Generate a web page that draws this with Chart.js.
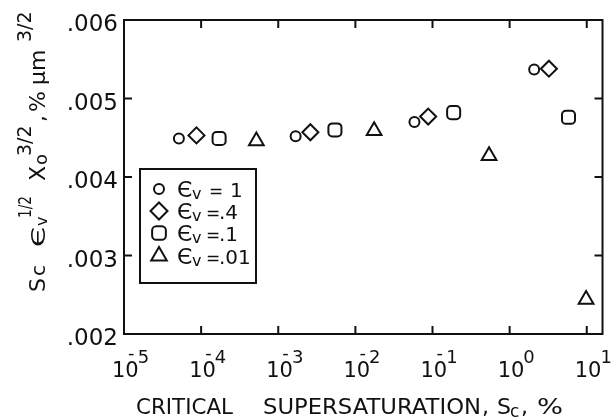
<!DOCTYPE html>
<html>
<head>
<meta charset="utf-8">
<script src="https://cdn.jsdelivr.net/npm/chart.js@4.4.1/dist/chart.umd.min.js"></script>
<style>
  html, body { margin: 0; padding: 0; background: #fff; }
  #wrap { width: 613px; height: 419px; }
</style>
</head>
<body>
<div id="wrap"><canvas id="chart"></canvas></div>
<script>
// values: critical supersaturation (%) vs scaled value, one pair of arrays per eps_v
const circleX   = [5.15e-5, 1.68e-3, 0.0583, 2.08];
const circleY   = [0.00449, 0.00452, 0.00470, 0.00537];
const diamondX  = [8.7e-5, 2.61e-3, 0.0879, 3.23];
const diamondY  = [0.00453, 0.00457, 0.00477, 0.00538];
const squareX   = [1.71e-4, 5.43e-3, 0.188, 5.8];
const squareY   = [0.00449, 0.00460, 0.00482, 0.00476];
const triangleX = [5.2e-4, 0.0175, 0.541, 9.8];
const triangleY = [0.00446, 0.00459, 0.00427, 0.00244];

const legendValues = ['1', '.4', '.1', '.01'];
const xTickPowers = [-5, -4, -3, -2, -1, 0, 1];
const yTicks = [0.002, 0.003, 0.004, 0.005, 0.006];
const yTickLabels = ['.002', '.003', '.004', '.005', '.006'];

const INK = '#111';
const FONT = '"DejaVu Sans", sans-serif';

const pts = (xs, ys) => xs.map((x, i) => ({ x, y: ys[i] }));

// r = radius on the plot, lr = radius in the legend box
const series = [
  { data: pts(circleX, circleY),     style: 'circle',      r: 5,   lr: 5 },
  { data: pts(diamondX, diamondY),   style: 'rectRot',     r: 8,   lr: 8.5 },
  { data: pts(squareX, squareY),     style: 'rectRounded', r: 7.6, lr: 8 },
  { data: pts(triangleX, triangleY), style: 'triangle',    r: 8.5, lr: 9 }
];

// text pieces placed at given offsets along the baseline (sub/superscripts, stretched glyphs)
function drawRuns(ctx, x, y, runs) {
  for (const r of runs) {
    ctx.font = `400 ${r.size}px ${FONT}`;
    ctx.save();
    ctx.translate(x + r.at, y + (r.dy || 0));
    if (r.w) {
      // stretch to the width the original lettering takes
      ctx.scale(r.w / ctx.measureText(r.t).width, 1);
    }
    ctx.fillText(r.t, 0, 0);
    ctx.restore();
  }
}

// frame, inward ticks, labels, titles and the boxed legend
const decorations = {
  id: 'decorations',
  afterDraw(c) {
    const ctx = c.ctx;
    const a = c.chartArea;
    const xs = c.scales.x, ys = c.scales.y;
    ctx.save();
    ctx.strokeStyle = INK;
    ctx.fillStyle = INK;
    ctx.lineWidth = 2;
    ctx.strokeRect(a.left, a.top, a.right - a.left, a.bottom - a.top);

    // ticks
    const tl = 8;
    ctx.beginPath();
    xTickPowers.forEach(p => {
      const px = xs.getPixelForValue(Math.pow(10, p));
      if (px <= a.left + 2) return;
      ctx.moveTo(px, a.bottom); ctx.lineTo(px, a.bottom - tl);
      ctx.moveTo(px, a.top);    ctx.lineTo(px, a.top + tl);
    });
    yTicks.forEach(v => {
      const py = ys.getPixelForValue(v);
      if (py <= a.top + 2 || py >= a.bottom - 2) return;
      ctx.moveTo(a.left, py);  ctx.lineTo(a.left + tl, py);
      ctx.moveTo(a.right, py); ctx.lineTo(a.right - tl, py);
    });
    ctx.stroke();

    // y tick labels
    ctx.textAlign = 'right';
    ctx.textBaseline = 'alphabetic';
    ctx.font = `400 23px ${FONT}`;
    yTicks.forEach((v, i) => {
      ctx.fillText(yTickLabels[i], 118, ys.getPixelForValue(v) + 11);
    });

    // x tick labels: 10 with the exponent above, minus sitting over the 0
    ctx.textAlign = 'left';
    xTickPowers.forEach(p => {
      const px = xs.getPixelForValue(Math.pow(10, p));
      ctx.font = `400 21px ${FONT}`;
      const w10 = ctx.measureText('10').width;
      const x0 = px - 12;
      ctx.fillText('10', x0, 377);
      ctx.font = `400 18px ${FONT}`;
      ctx.fillText(String(Math.abs(p)), x0 + w10 - 1, 363);
      if (p < 0) ctx.fillText('-', px + 4, 359);
    });

    // x title
    drawRuns(ctx, 0, 414, [
      { t: 'CRITICAL', size: 22, at: 136, w: 97 },
      { t: 'SUPERSATURATION', size: 22, at: 263, w: 218 },
      { t: ',', size: 22, at: 482 },
      { t: 'S', size: 22, at: 497 },
      { t: 'c', size: 17, at: 510, dy: 3 },
      { t: ',', size: 22, at: 521 },
      { t: '%', size: 22, at: 537, w: 26 }
    ]);

    // y title, rotated (baseline sits at x = 45)
    ctx.save();
    ctx.translate(45, 292);
    ctx.rotate(-Math.PI / 2);
    drawRuns(ctx, 0, 0, [
      { t: 'S', size: 22, at: 0 },
      { t: 'c', size: 20, at: 16 },
      { t: 'Є', size: 20, at: 45, w: 20 },
      { t: 'v', size: 16, at: 66, dy: 2 },
      { t: '1/2', size: 18, at: 74, dy: -14, w: 22 },
      { t: 'X', size: 22, at: 111 },
      { t: 'o', size: 18, at: 127, dy: 2 },
      { t: '3/2', size: 19, at: 136, dy: -14 },
      { t: ',', size: 22, at: 170 },
      { t: '%', size: 22, at: 180 },
      { t: 'μm', size: 22, at: 207 },
      { t: '3/2', size: 19, at: 250, dy: -14 }
    ]);
    ctx.restore();

    // legend box
    ctx.lineWidth = 2;
    ctx.strokeRect(140, 169, 116, 114);
    const rows = [189, 211, 233, 256];
    series.forEach((s, i) => {
      ctx.lineWidth = 2;
      ctx.strokeStyle = INK;
      ctx.fillStyle = 'rgba(0,0,0,0)';
      Chart.helpers.drawPoint(ctx, { pointStyle: s.style, radius: s.lr, borderWidth: 2 }, 159, rows[i]);
      ctx.fillStyle = INK;
      const v = legendValues[i];
      drawRuns(ctx, 0, rows[i] + 8, [
        { t: 'Є', size: 22, at: 177 },
        { t: 'v', size: 16, at: 192, dy: 2 },
        { t: '=', size: 17, at: i === 0 ? 209 : 206 },
        { t: v, size: 20, at: i === 0 ? 230 : 219 }
      ]);
    });
    ctx.restore();
  }
};

new Chart(document.getElementById('chart'), {
  type: 'scatter',
  data: {
    datasets: series.map(s => ({
      data: s.data,
      pointStyle: s.style,
      pointRadius: s.r,
      pointBorderWidth: 2,
      pointBorderColor: INK,
      pointBackgroundColor: 'rgba(0,0,0,0)',
      showLine: false
    }))
  },
  options: {
    responsive: true,
    maintainAspectRatio: false,
    animation: false,
    layout: { padding: { top: 20, right: 2, left: 0, bottom: 0 } },
    plugins: { legend: { display: false }, tooltip: { enabled: false } },
    scales: {
      x: {
        type: 'logarithmic',
        min: 1e-5,
        max: 16,
        grid: { display: false },
        border: { display: false },
        ticks: { display: false },
        afterFit: s => { s.height = 85; }
      },
      y: {
        min: 0.002,
        max: 0.006,
        grid: { display: false },
        border: { display: false },
        ticks: { display: false },
        afterFit: s => { s.width = 124; }
      }
    }
  },
  plugins: [decorations]
});
</script>
</body>
</html>
